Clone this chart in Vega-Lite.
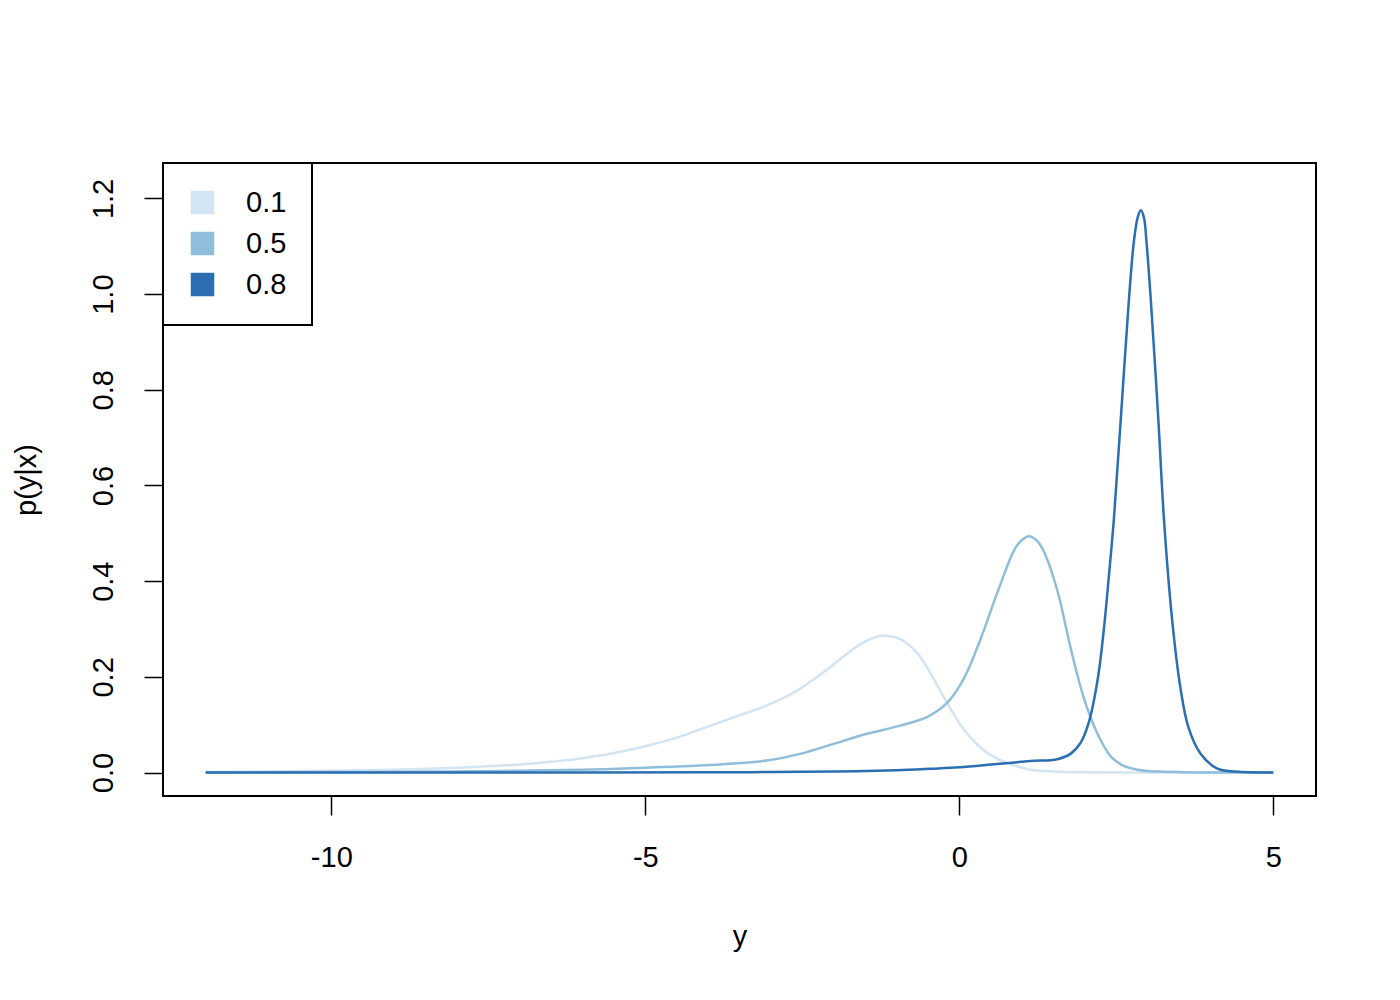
{
  "$schema": "https://vega.github.io/schema/vega-lite/v6.json",
  "width": 1153,
  "height": 633,
  "autosize": {"type": "none"},
  "padding": {"left": 163, "top": 163, "right": 84, "bottom": 204},
  "background": "white",
  "config": {
    "view": {"stroke": "black", "strokeWidth": 2},
    "font": "Liberation Sans",
    "axis": {
      "grid": false,
      "domain": false,
      "tickColor": "black",
      "tickWidth": 1.5,
      "tickSize": 19,
      "labelFont": "Liberation Sans",
      "labelFontSize": 29,
      "labelColor": "black",
      "titleFont": "Liberation Sans",
      "titleFontSize": 29,
      "titleFontWeight": "normal",
      "titleColor": "black"
    }
  },
  "data": {
    "values": [
      {"q": "0.1", "y": -12, "p": 0.001},
      {"q": "0.1", "y": -11, "p": 0.002},
      {"q": "0.1", "y": -10, "p": 0.004},
      {"q": "0.1", "y": -9, "p": 0.006},
      {"q": "0.1", "y": -8, "p": 0.010},
      {"q": "0.1", "y": -7, "p": 0.017},
      {"q": "0.1", "y": -6, "p": 0.030},
      {"q": "0.1", "y": -5.5, "p": 0.041},
      {"q": "0.1", "y": -5, "p": 0.055},
      {"q": "0.1", "y": -4.5, "p": 0.073},
      {"q": "0.1", "y": -4.13, "p": 0.090},
      {"q": "0.1", "y": -3.6, "p": 0.115},
      {"q": "0.1", "y": -3.07, "p": 0.140},
      {"q": "0.1", "y": -2.75, "p": 0.159},
      {"q": "0.1", "y": -2.54, "p": 0.175},
      {"q": "0.1", "y": -2.27, "p": 0.199},
      {"q": "0.1", "y": -2.0, "p": 0.226},
      {"q": "0.1", "y": -1.74, "p": 0.253},
      {"q": "0.1", "y": -1.47, "p": 0.276},
      {"q": "0.1", "y": -1.23, "p": 0.286},
      {"q": "0.1", "y": -0.94, "p": 0.279},
      {"q": "0.1", "y": -0.67, "p": 0.250},
      {"q": "0.1", "y": -0.44, "p": 0.203},
      {"q": "0.1", "y": -0.2, "p": 0.147},
      {"q": "0.1", "y": 0.05, "p": 0.094},
      {"q": "0.1", "y": 0.33, "p": 0.053},
      {"q": "0.1", "y": 0.6, "p": 0.029},
      {"q": "0.1", "y": 0.87, "p": 0.015},
      {"q": "0.1", "y": 1.13, "p": 0.006},
      {"q": "0.1", "y": 1.4, "p": 0.003},
      {"q": "0.1", "y": 1.66, "p": 0.001},
      {"q": "0.1", "y": 2.2, "p": 0.0003},
      {"q": "0.1", "y": 3, "p": 0},
      {"q": "0.1", "y": 5, "p": 0},
      {"q": "0.5", "y": -12, "p": 0},
      {"q": "0.5", "y": -10, "p": 0.001},
      {"q": "0.5", "y": -8, "p": 0.002},
      {"q": "0.5", "y": -7, "p": 0.004},
      {"q": "0.5", "y": -6, "p": 0.006},
      {"q": "0.5", "y": -5, "p": 0.010},
      {"q": "0.5", "y": -4.13, "p": 0.0146},
      {"q": "0.5", "y": -3.6, "p": 0.019},
      {"q": "0.5", "y": -3.07, "p": 0.025},
      {"q": "0.5", "y": -2.54, "p": 0.039},
      {"q": "0.5", "y": -2.0, "p": 0.060},
      {"q": "0.5", "y": -1.47, "p": 0.081},
      {"q": "0.5", "y": -0.94, "p": 0.098},
      {"q": "0.5", "y": -0.5, "p": 0.117},
      {"q": "0.5", "y": -0.2, "p": 0.145},
      {"q": "0.5", "y": 0.07, "p": 0.196},
      {"q": "0.5", "y": 0.33, "p": 0.276},
      {"q": "0.5", "y": 0.6, "p": 0.374},
      {"q": "0.5", "y": 0.87, "p": 0.464},
      {"q": "0.5", "y": 0.98, "p": 0.484},
      {"q": "0.5", "y": 1.11, "p": 0.494},
      {"q": "0.5", "y": 1.24, "p": 0.484},
      {"q": "0.5", "y": 1.34, "p": 0.464},
      {"q": "0.5", "y": 1.56, "p": 0.381},
      {"q": "0.5", "y": 1.77, "p": 0.262},
      {"q": "0.5", "y": 1.98, "p": 0.157},
      {"q": "0.5", "y": 2.2, "p": 0.081},
      {"q": "0.5", "y": 2.41, "p": 0.034},
      {"q": "0.5", "y": 2.62, "p": 0.014},
      {"q": "0.5", "y": 2.89, "p": 0.005},
      {"q": "0.5", "y": 3.2, "p": 0.002},
      {"q": "0.5", "y": 3.6, "p": 0.0005},
      {"q": "0.5", "y": 4, "p": 0},
      {"q": "0.5", "y": 5, "p": 0},
      {"q": "0.8", "y": -12, "p": 0},
      {"q": "0.8", "y": -6, "p": 0},
      {"q": "0.8", "y": -4, "p": 0.0005},
      {"q": "0.8", "y": -3, "p": 0.001},
      {"q": "0.8", "y": -2, "p": 0.002},
      {"q": "0.8", "y": -1, "p": 0.005},
      {"q": "0.8", "y": -0.46, "p": 0.008},
      {"q": "0.8", "y": 0, "p": 0.011},
      {"q": "0.8", "y": 0.6, "p": 0.018},
      {"q": "0.8", "y": 1.13, "p": 0.024},
      {"q": "0.8", "y": 1.56, "p": 0.028},
      {"q": "0.8", "y": 1.77, "p": 0.039},
      {"q": "0.8", "y": 1.93, "p": 0.062},
      {"q": "0.8", "y": 2.06, "p": 0.104},
      {"q": "0.8", "y": 2.2, "p": 0.192},
      {"q": "0.8", "y": 2.3, "p": 0.297},
      {"q": "0.8", "y": 2.38, "p": 0.408},
      {"q": "0.8", "y": 2.46, "p": 0.527},
      {"q": "0.8", "y": 2.57, "p": 0.736},
      {"q": "0.8", "y": 2.7, "p": 0.987},
      {"q": "0.8", "y": 2.78, "p": 1.110},
      {"q": "0.8", "y": 2.84, "p": 1.160},
      {"q": "0.8", "y": 2.89, "p": 1.175},
      {"q": "0.8", "y": 2.94, "p": 1.160},
      {"q": "0.8", "y": 2.98, "p": 1.110},
      {"q": "0.8", "y": 3.05, "p": 0.987},
      {"q": "0.8", "y": 3.17, "p": 0.736},
      {"q": "0.8", "y": 3.26, "p": 0.527},
      {"q": "0.8", "y": 3.39, "p": 0.318},
      {"q": "0.8", "y": 3.52, "p": 0.178},
      {"q": "0.8", "y": 3.65, "p": 0.094},
      {"q": "0.8", "y": 3.84, "p": 0.040},
      {"q": "0.8", "y": 4.11, "p": 0.008},
      {"q": "0.8", "y": 4.4, "p": 0.002},
      {"q": "0.8", "y": 5, "p": 0}
    ]
  },
  "mark": {"type": "line", "interpolate": "catmull-rom", "strokeWidth": 2.5, "fillOpacity": 0, "clip": true},
  "encoding": {
    "x": {
      "field": "y",
      "type": "quantitative",
      "scale": {"domain": [-12.68, 5.68], "nice": false, "zero": false},
      "axis": {"values": [-10, -5, 0, 5], "title": "y", "labelExpr": "replace(datum.label, '\u2212', '-')", "labelPadding": 28, "titlePadding": 50, "labelFlush": false}
    },
    "y": {
      "field": "p",
      "type": "quantitative",
      "scale": {"domain": [-0.049, 1.274], "nice": false, "zero": false},
      "axis": {"values": [0, 0.2, 0.4, 0.6, 0.8, 1.0, 1.2], "format": ".1f", "title": "p(y|x)", "labelAngle": -90, "labelAlign": "center", "labelBaseline": "bottom", "labelPadding": 26, "titlePadding": 48, "labelFlush": false}
    },
    "stroke": {
      "field": "q",
      "type": "nominal",
      "scale": {"domain": ["0.1", "0.5", "0.8"], "range": ["#d3e4f3", "#8fbedd", "#2b6fb2"]},
      "legend": null
    },
    "fill": {
      "field": "q",
      "type": "nominal",
      "scale": {"domain": ["0.1", "0.5", "0.8"], "range": ["#d3e4f3", "#8fbedd", "#2b6fb2"]},
      "legend": {
        "title": null,
        "orient": "top-left",
        "offset": 0,
        "padding": 25,
        "rowPadding": 11,
        "strokeColor": "black",
        "fillColor": "white",
        "symbolType": "square",
        "symbolSize": 484,
        "symbolStrokeColor": "black",
        "symbolStrokeWidth": 1.5,
        "labelFont": "Liberation Sans",
        "labelFontSize": 29,
        "labelColor": "black",
        "labelOffset": 29,
        "encode": {
          "legend": {"update": {"strokeWidth": {"value": 2}}},
          "symbols": {"update": {"fillOpacity": {"value": 1}, "opacity": {"value": 1}, "stroke": {"value": "black"}, "strokeOpacity": {"value": 1}, "strokeWidth": {"value": 1.5}}}
        }
      }
    }
  }
}
